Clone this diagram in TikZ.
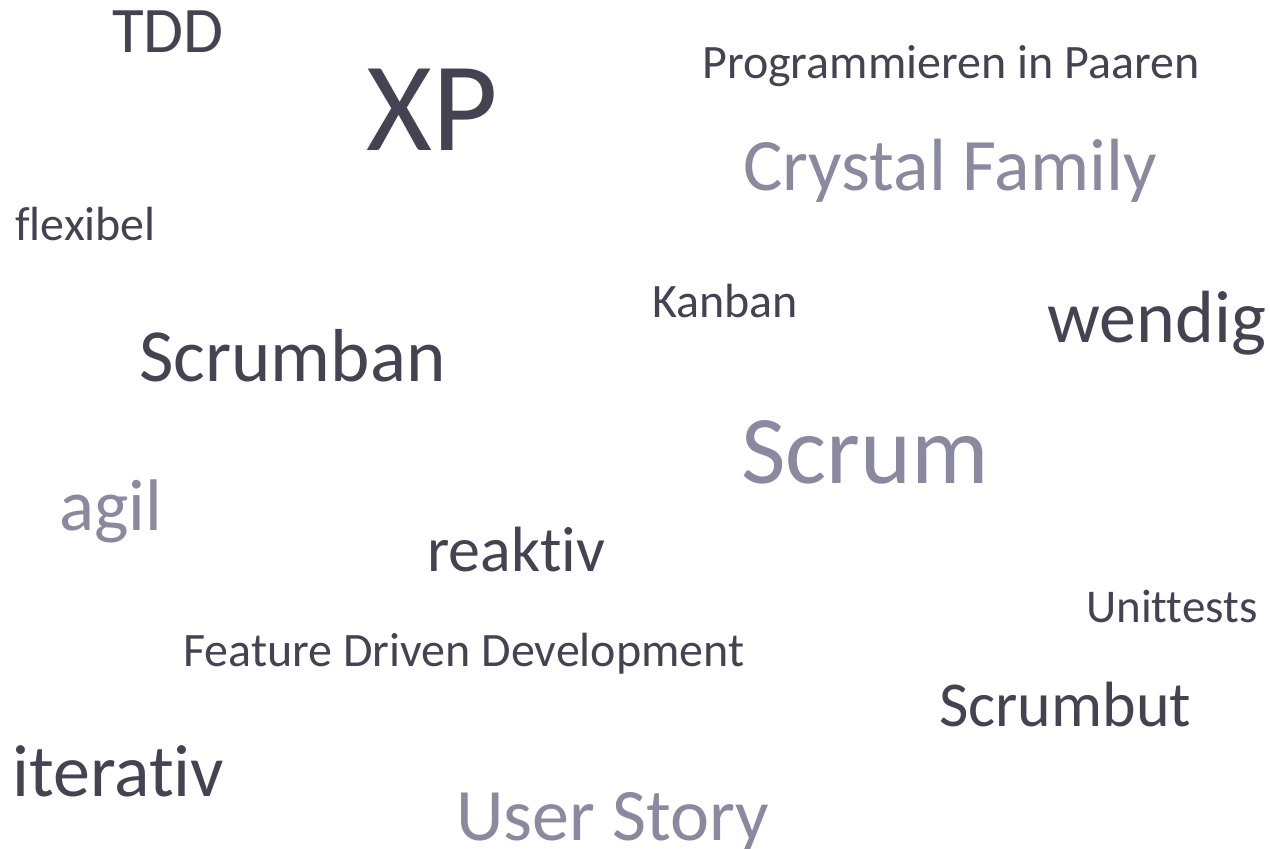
\documentclass[tikz,border=0pt]{standalone}
\usepackage{fontspec}
\setmainfont{Carlito}[Ligatures=NoCommon]
\usepackage{tikz}
\usetikzlibrary{positioning}
\definecolor{wortdunkel}{RGB}{69,67,82}
\definecolor{worthell}{RGB}{138,137,160}

\begin{document}
\begin{tikzpicture}[x=1pt, y=-1pt,
  wort/.style={anchor=base west, inner sep=0pt,
    font=\fontsize{#1}{#1}\selectfont},
  dunkel/.style={wort=#1, text=wortdunkel},
  hell/.style={wort=#1, text=worthell},
]
  \useasboundingbox (0,0) rectangle (1270,849);
  % Wortwolke, obere Haelfte
  \node[dunkel=65]  (tdd)      at (112,52)  {TDD};
  \node[dunkel=127] (xp)       at (366,150) {XP};
  \node[dunkel=48]  (paare)    at (702,78)  {Programmieren in Paaren};
  \node[hell=74]    (crystal)  at (743,190) {Crystal Family};
  \node[dunkel=48]  (flexibel) at (15,240)  {flexibel};
  \node[dunkel=48]  (kanban)   at (652,317) {Kanban};
  \node[dunkel=74]  (wendig)   at (1047,342) {wendig};
  \node[dunkel=75]  (scrumban) at (139,381) {Scrumban};
  % untere Haelfte
  \node[hell=97]    (scrum)    at (741,483) {Scrum};
  \node[hell=73]    (agil)     at (59,530)  {agil};
  \node[dunkel=64]  (reaktiv)  at (427,571) {reaktiv};
  \node[dunkel=47]  (unit)     at (1086,622) {Unittests};
  \node[dunkel=48]  (fdd)      at (183,666) {Feature Driven Development};
  \node[dunkel=64]  (scrumbut) at (939,726) {Scrumbut};
  \node[dunkel=74]  (iterativ) at (12,796)  {iterativ};
  \node[hell=74]    (story)    at (456,840) {User Story};
\end{tikzpicture}
\end{document}
